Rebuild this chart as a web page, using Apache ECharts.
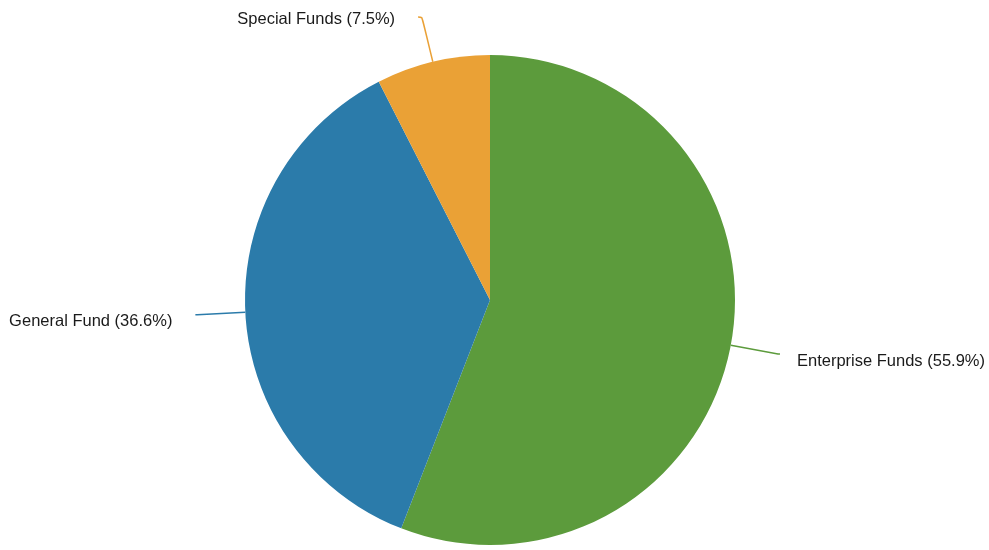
<!DOCTYPE html>
<html lang="en">
<head>
    <meta charset="UTF-8">
    <title>Funds Pie</title>
    <style>
        html, body { margin: 0; padding: 0; background: #fff; }
    </style>
</head>
<body>
    <div id="main" style="width: 989px;height:550px;"></div>

    <script src="https://cdn.jsdelivr.net/npm/echarts@6/dist/echarts.min.js"></script>
    <script>
        const names = ['Enterprise Funds', 'General Fund', 'Special Funds'];
        const shares = [55.9, 36.6, 7.5];
        const colors = ['#5c9b3c', '#2b7baa', '#eaa136'];

        const chart = echarts.init(document.getElementById('main'));

        const data = names.map((n, i) => ({ name: n, value: shares[i] }));
        data[1].label = { distanceToLabelLine: 23 };
        // the small slice at the top has a longer, curved leader
        data[2].label = { distanceToLabelLine: 23 };
        data[2].labelLine = { length: 46, length2: 4, smooth: 0.3 };

        const option = {
            animation: false,
            color: colors,
            series: [{
                type: 'pie',
                center: [490, 300],
                radius: 245,
                startAngle: 90,
                clockwise: true,
                data: data,
                label: {
                    formatter: '{b} ({c}%)',
                    fontFamily: 'Liberation Sans, Arial, sans-serif',
                    fontSize: 16.5,
                    color: '#1a1a1a',
                    overflow: 'none',
                    edgeDistance: 0,
                    distanceToLabelLine: 17
                },
                labelLine: {
                    length: 48,
                    length2: 2,
                    lineStyle: { width: 1.5 }
                },
                // side labels sit a little below their leader ends
                labelLayout: params => (params.dataIndex < 2 ? { dy: 7 } : { dy: 2 }),
                itemStyle: { borderWidth: 0 },
                emphasis: { disabled: true }
            }]
        };

        chart.setOption(option);
    </script>
</body>
</html>
